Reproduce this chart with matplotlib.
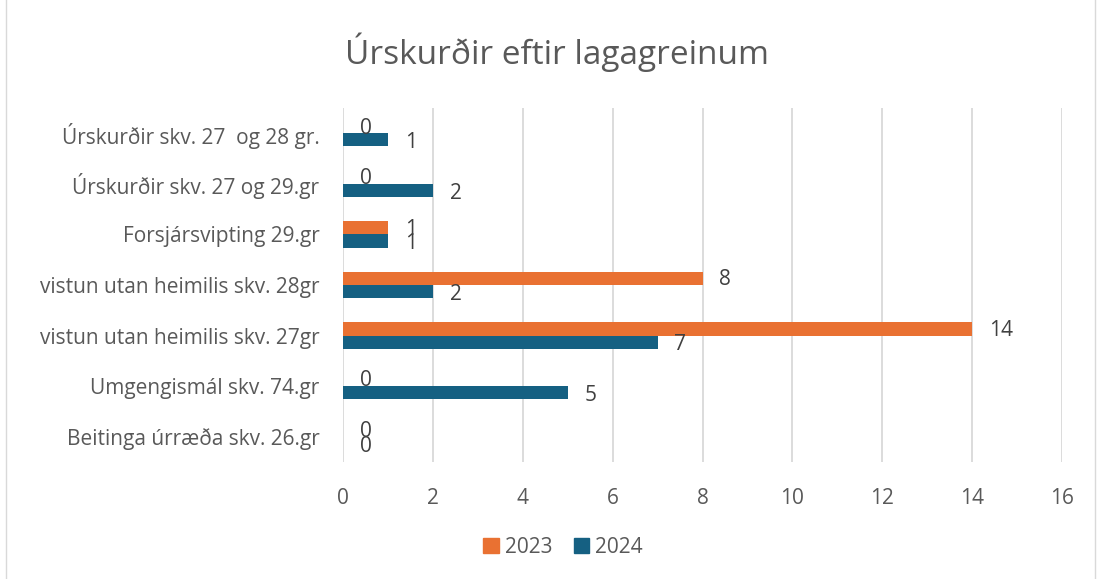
import numpy as np
import matplotlib
matplotlib.use("Agg")
import matplotlib.pyplot as plt
from matplotlib.patches import Rectangle, Patch

plt.rcParams['font.family'] = ['Open Sans', 'DejaVu Sans']

categories = ["Úrskurðir skv. 27  og 28 gr.", "Úrskurðir skv. 27 og 29.gr",
              "Forsjársvipting 29.gr", "vistun utan heimilis skv. 28gr",
              "vistun utan heimilis skv. 27gr", "Umgengismál skv. 74.gr",
              "Beitinga úrræða skv. 26.gr"]
vals_2023 = [0, 0, 1, 8, 14, 0, 0]
vals_2024 = [1, 2, 1, 2, 7, 5, 0]
x_ticks = [0, 2, 4, 6, 8, 10, 12, 14, 16]

orange = "#E97132"
blue = "#156082"
txt = "#595959"
fs = 15

fig = plt.figure(figsize=(11, 5.79), dpi=100)
ax = fig.add_axes([0.3118, 0.2021, 0.6537, 0.6114])

y = np.arange(len(categories))
h = 0.26
ax.barh(y - h / 2, vals_2023, height=h, color=orange, zorder=3)
ax.barh(y + h / 2, vals_2024, height=h, color=blue, zorder=3)

# data labels, offset to the right like excel
for yi, v in zip(y, vals_2023):
    ax.annotate(str(v), (v, yi - h / 2), xytext=(12, -1), textcoords="offset points",
                ha="left", va="center", fontsize=fs, color="#404040")
for yi, v in zip(y, vals_2024):
    ax.annotate(str(v), (v, yi + h / 2), xytext=(12, -2), textcoords="offset points",
                ha="left", va="center", fontsize=fs, color="#404040")

ax.set_ylim(len(categories) - 0.5, -0.5)
ax.set_xlim(0, 16)
ax.set_xticks(x_ticks)
ax.set_yticks(y)
ax.set_yticklabels(categories)
ax.tick_params(axis="both", length=0, labelsize=fs, colors=txt)
ax.tick_params(axis="x", pad=19)
ax.tick_params(axis="y", pad=17)
ax.grid(axis="x", color="#D9D9D9", linewidth=1.3, zorder=0)
for s in ax.spines.values():
    s.set_visible(False)

fig.text(0.506, 0.91, "Úrskurðir eftir lagagreinum", ha="center", va="center",
         fontsize=24, color=txt)

handles = [Patch(color=orange, label="2023"), Patch(color=blue, label="2024")]
fig.legend(handles=handles, loc="center", bbox_to_anchor=(0.512, 0.055), ncol=2,
           frameon=False, fontsize=fs, handlelength=0.75, handleheight=0.75,
           handletextpad=0.3, columnspacing=1.0, labelcolor=txt)

fig.patches.append(Rectangle((0.005, -0.01), 0.99, 1.02, transform=fig.transFigure,
                             fill=False, edgecolor="#D9D9D9", linewidth=1))

fig.savefig("out.png", dpi=100)
